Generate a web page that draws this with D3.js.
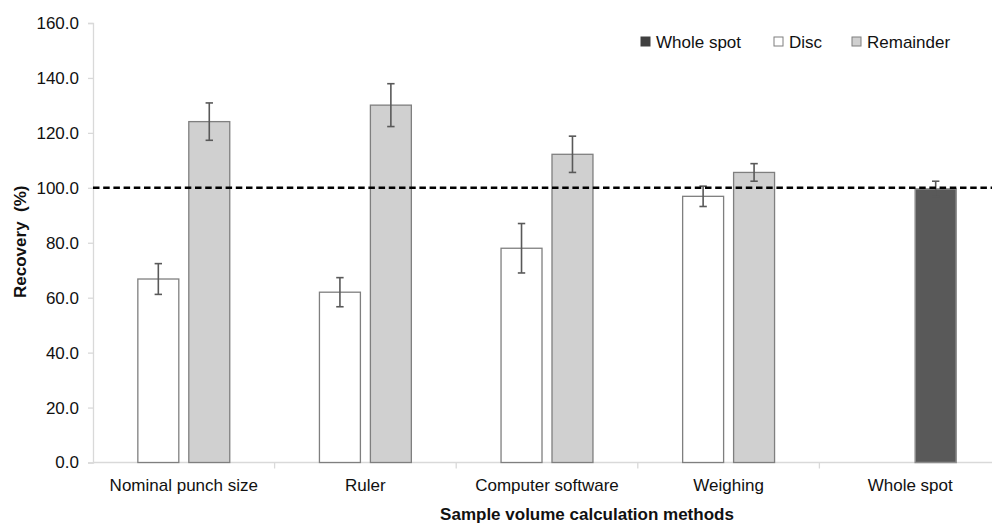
<!DOCTYPE html>
<html>
<head>
<meta charset="utf-8">
<script src="https://cdn.jsdelivr.net/npm/d3@7"></script>
<style>
  html, body { margin: 0; padding: 0; background: #fff; }
  svg { display: block; font-family: "Liberation Sans", Arial, sans-serif; }
</style>
</head>
<body>
<svg id="chart" width="992" height="525"></svg>
<script>
// Recovery by sample volume calculation method
const categories = ["Nominal punch size", "Ruler", "Computer software", "Weighing", "Whole spot"];
const discValues = [66.8, 62.0, 78.0, 96.9, null];
const discErrors = [5.6, 5.3, 9.0, 3.7, null];
const remainderValues = [124.1, 130.1, 112.2, 105.6, null];
const remainderErrors = [6.8, 7.8, 6.6, 3.2, null];
const wholeSpotValues = [null, null, null, null, 99.6];
const wholeSpotErrors = [null, null, null, null, 2.8];
const yTicks = [0, 20, 40, 60, 80, 100, 120, 140, 160];
const referenceLevel = 100;
const legendItems = ["Whole spot", "Disc", "Remainder"];

const svg = d3.select("#chart");
const margin = { left: 93, right: -9, top: 23, bottom: 62.5 };
const W = 992, H = 525;

const x = d3.scaleBand()
  .domain(categories)
  .range([margin.left, W - margin.right])
  .paddingInner(0).paddingOuter(0);

const slot = d3.scaleBand()
  .domain(["left", "right"])
  .range([0, x.bandwidth()])
  .paddingInner(0.196)
  .paddingOuter(0.88);

const y = d3.scaleLinear().domain([0, 160]).range([H - margin.bottom, margin.top]);

const axisColor = "#d9d9d9";

// y axis
const yAxis = svg.append("g")
  .attr("transform", `translate(${margin.left},0)`)
  .call(d3.axisLeft(y).tickValues(yTicks).tickFormat(d3.format(".1f")).tickSize(5).tickPadding(9));
yAxis.select(".domain").attr("stroke", axisColor).attr("stroke-width", 1.3);
yAxis.selectAll(".tick line").attr("stroke", axisColor).attr("stroke-width", 1.3);
yAxis.selectAll(".tick text").attr("font-size", 17).attr("fill", "#111")
  .attr("font-family", "Liberation Sans, Arial, sans-serif");

// x axis (ticks at category boundaries)
const xAxisG = svg.append("g").attr("transform", `translate(0,${y(0)})`);
xAxisG.append("line")
  .attr("x1", margin.left).attr("x2", W - margin.right)
  .attr("stroke", axisColor).attr("stroke-width", 1.3);
xAxisG.selectAll("line.sep")
  .data(categories.slice(1))
  .join("line")
  .attr("class", "sep")
  .attr("x1", d => x(d)).attr("x2", d => x(d))
  .attr("y1", 0).attr("y2", 6)
  .attr("stroke", axisColor).attr("stroke-width", 1.3);
xAxisG.selectAll("text.cat")
  .data(categories)
  .join("text")
  .attr("class", "cat")
  .attr("x", d => x(d) + x.bandwidth() / 2)
  .attr("y", 28)
  .attr("text-anchor", "middle")
  .attr("font-size", 17)
  .attr("fill", "#111")
  .text(d => d);

// bar records
const bars = [];
categories.forEach((c, i) => {
  if (discValues[i] != null) bars.push({ cat: c, slot: "left", v: discValues[i], e: discErrors[i], fill: "#ffffff", stroke: "#7f7f7f", sw: 1.3 });
  if (remainderValues[i] != null) bars.push({ cat: c, slot: "right", v: remainderValues[i], e: remainderErrors[i], fill: "#d0d0d0", stroke: "#7f7f7f", sw: 1.3 });
  if (wholeSpotValues[i] != null) bars.push({ cat: c, slot: "right", v: wholeSpotValues[i], e: wholeSpotErrors[i], fill: "#595959", stroke: "#8c8c8c", sw: 1.5 });
});

svg.append("g").selectAll("rect")
  .data(bars)
  .join("rect")
  .attr("x", d => x(d.cat) + slot(d.slot))
  .attr("width", slot.bandwidth())
  .attr("y", d => y(d.v))
  .attr("height", d => y(0) - y(d.v))
  .attr("fill", d => d.fill)
  .attr("stroke", d => d.stroke)
  .attr("stroke-width", d => d.sw);

// error bars
const eb = svg.append("g").attr("stroke", "#595959").attr("stroke-width", 1.6).attr("fill", "none");
bars.forEach(d => {
  const cx = x(d.cat) + slot(d.slot) + slot.bandwidth() / 2;
  const hi = y(d.v + d.e), lo = y(d.v - d.e);
  eb.append("line").attr("x1", cx).attr("x2", cx).attr("y1", hi).attr("y2", lo);
  eb.append("line").attr("x1", cx - 3.7).attr("x2", cx + 3.7).attr("y1", hi).attr("y2", hi);
  eb.append("line").attr("x1", cx - 3.7).attr("x2", cx + 3.7).attr("y1", lo).attr("y2", lo);
});

// 100 % reference line
svg.append("line")
  .attr("x1", margin.left).attr("x2", W)
  .attr("y1", y(referenceLevel)).attr("y2", y(referenceLevel))
  .attr("stroke", "#000").attr("stroke-width", 2.4)
  .attr("stroke-dasharray", "6.5,3.7");

// axis titles
svg.append("text")
  .attr("transform", `translate(26,${(y(0) + y(160)) / 2 - 1}) rotate(-90)`)
  .attr("text-anchor", "middle")
  .attr("font-size", 17).attr("font-weight", "bold").attr("fill", "#111")
  .attr("xml:space", "preserve")
  .text("Recovery  (%)");

svg.append("text")
  .attr("x", 587).attr("y", 520)
  .attr("text-anchor", "middle")
  .attr("font-size", 17).attr("font-weight", "bold").attr("fill", "#111")
  .text("Sample volume calculation methods");

// legend
const legendStyle = {
  "Whole spot": { fill: "#404040", stroke: "#404040" },
  "Disc": { fill: "#ffffff", stroke: "#7f7f7f" },
  "Remainder": { fill: "#d0d0d0", stroke: "#7f7f7f" }
};
const legendX = [641, 774, 852];
const lg = svg.append("g");
legendItems.forEach((name, i) => {
  lg.append("rect")
    .attr("x", legendX[i]).attr("y", 37)
    .attr("width", 9).attr("height", 9)
    .attr("fill", legendStyle[name].fill)
    .attr("stroke", legendStyle[name].stroke).attr("stroke-width", 1);
  lg.append("text")
    .attr("x", legendX[i] + 15).attr("y", 48)
    .attr("font-size", 17).attr("fill", "#111")
    .text(name);
});
</script>
</body>
</html>
